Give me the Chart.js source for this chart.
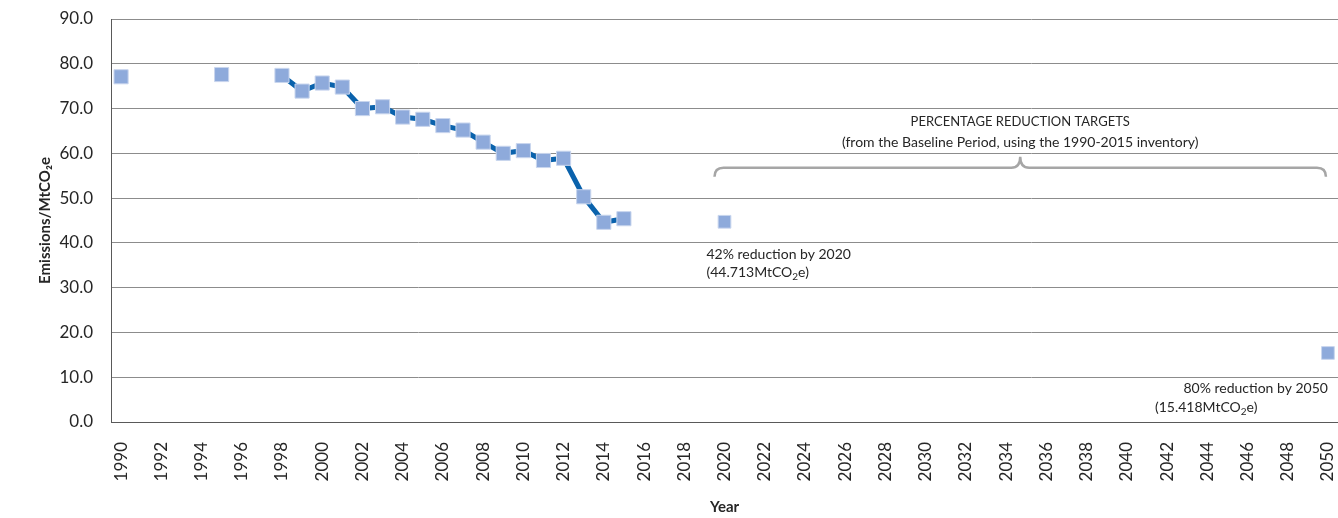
<!DOCTYPE html>
<html>
<head>
<meta charset="utf-8">
<script src="https://cdn.jsdelivr.net/npm/chart.js@4"></script>
<style>
  html, body { margin: 0; padding: 0; background: #fff; }
  #wrap { width: 1338px; height: 518px; }
</style>
</head>
<body>
<div id="wrap"><canvas id="emissionsChart" width="1338" height="518"></canvas></div>
<script>
// years on the category axis, 1990 - 2050
const years = [];
for (let y = 1990; y <= 2050; y++) years.push(String(y));

// inventory values (MtCO2e)
const inventoryYears = ["1990", "1995", "1998", "1999", "2000", "2001", "2002", "2003", "2004", "2005",
  "2006", "2007", "2008", "2009", "2010", "2011", "2012", "2013", "2014", "2015"];
const inventoryValues = [77.1, 77.6, 77.4, 73.9, 75.7, 74.8, 70.0, 70.4, 68.1, 67.6,
  66.2, 65.2, 62.5, 60.0, 60.6, 58.4, 58.9, 50.3, 44.6, 45.4];

// reduction targets
const targetYears = ["2020", "2050"];
const targetValues = [44.713, 15.418];

const yTicks = [0, 10, 20, 30, 40, 50, 60, 70, 80, 90];

const FONT = "Lato, 'Open Sans', sans-serif";

// one row per year, null where there is no value so the line breaks
function seriesFor(keys, vals) {
  return years.map((yr) => {
    const i = keys.indexOf(yr);
    return i >= 0 ? vals[i] : null;
  });
}
const lineData = seriesFor(inventoryYears, inventoryValues);
const targetData = seriesFor(targetYears, targetValues);

// brace + notes drawn on top, positioned through the scales
const notesPlugin = {
  id: "notes",
  afterDatasetsDraw(chart) {
    const { ctx, scales } = chart;
    const x = scales.x, y = scales.y;
    ctx.save();

    // curly brace over the target period
    const x0 = x.getPixelForValue(years.indexOf("2020")) - 10;
    const x1 = x.getPixelForValue(years.indexOf("2050")) - 2;
    const xm = (x0 + x1) / 2;
    const yb = y.getPixelForValue(56.8);
    const r = 9;
    ctx.strokeStyle = "#a6a6a6";
    ctx.lineWidth = 2.5;
    ctx.beginPath();
    ctx.moveTo(x0, yb + r);
    ctx.quadraticCurveTo(x0, yb, x0 + r, yb);
    ctx.lineTo(xm - r, yb);
    ctx.quadraticCurveTo(xm, yb, xm, yb - r - 2);
    ctx.quadraticCurveTo(xm, yb, xm + r, yb);
    ctx.lineTo(x1 - r, yb);
    ctx.quadraticCurveTo(x1, yb, x1, yb + r);
    ctx.stroke();

    ctx.fillStyle = "#262626";
    ctx.textAlign = "center";
    ctx.textBaseline = "middle";
    ctx.font = "13px " + FONT;
    ctx.fillText("PERCENTAGE REDUCTION TARGETS", xm, y.getPixelForValue(67.1));
    ctx.font = "14px " + FONT;
    ctx.fillText("(from the Baseline Period, using the 1990-2015 inventory)", xm, y.getPixelForValue(62.4));

    ctx.textAlign = "left";
    const lx = x.getPixelForValue(years.indexOf("2020")) - 18;
    ctx.fillText("42% reduction by 2020", lx, y.getPixelForValue(37.4));
    drawSub(ctx, "(44.713MtCO", "2", "e)", lx, y.getPixelForValue(33.4));

    const rx = x.getPixelForValue(years.indexOf("2050"));
    ctx.textAlign = "right";
    ctx.fillText("80% reduction by 2050", rx, y.getPixelForValue(7.4));
    ctx.textAlign = "left";
    drawSub(ctx, "(15.418MtCO", "2", "e)", rx - 173, y.getPixelForValue(3.2));
    ctx.restore();
  }
};

function drawSub(ctx, a, sub, b, px, py) {
  ctx.fillText(a, px, py);
  let w = ctx.measureText(a).width;
  const keep = ctx.font;
  ctx.font = "10px " + FONT;
  ctx.fillText(sub, px + w, py + 4);
  w += ctx.measureText(sub).width;
  ctx.font = keep;
  ctx.fillText(b, px + w, py);
}

new Chart(document.getElementById("emissionsChart"), {
  type: "line",
  data: {
    labels: years,
    datasets: [
      {
        label: "Inventory",
        data: lineData,
        borderColor: "#0a62ac",
        borderWidth: 5,
        pointStyle: "rect",
        pointRadius: 10,
        pointBackgroundColor: "#8eaadb",
        pointBorderColor: "#c9d6ee",
        pointBorderWidth: 1,
        spanGaps: false,
        tension: 0,
        clip: false
      },
      {
        label: "Targets",
        data: targetData,
        showLine: false,
        pointStyle: "rect",
        pointRadius: 9,
        pointBackgroundColor: "#8eaadb",
        pointBorderColor: "#c9d6ee",
        pointBorderWidth: 1,
        clip: false
      }
    ]
  },
  options: {
    responsive: false,
    animation: false,
    layout: { autoPadding: false, padding: { top: 19, left: 0, right: 0, bottom: 0 } },
    plugins: {
      legend: { display: false },
      tooltip: { enabled: false }
    },
    scales: {
      x: {
        offset: true,
        grid: { display: false, drawTicks: false },
        border: { color: "#595959", width: 1 },
        afterFit: (axis) => {
          axis.height = 96;
          axis.paddingLeft = 0;
          axis.paddingRight = 0;
        },
        ticks: {
          autoSkip: false,
          maxRotation: 90,
          minRotation: 90,
          padding: 20,
          color: "#262626",
          font: { family: FONT, size: 17 },
          callback: function (v, i) { return i % 2 === 0 ? years[i] : ""; }
        },
        title: {
          display: true,
          text: "Year",
          color: "#262626",
          font: { family: FONT, size: 15, weight: "bold" },
          padding: { top: 0, bottom: 2 }
        }
      },
      y: {
        min: 0,
        max: 90,
        afterBuildTicks: (axis) => { axis.ticks = yTicks.map((v) => ({ value: v })); },
        afterFit: (axis) => {
          axis.width = 111;
          axis.paddingTop = 0;
          axis.paddingBottom = 0;
        },
        grid: { color: "#8c8c8c", lineWidth: 1, drawTicks: false },
        border: { color: "#595959", width: 1 },
        ticks: {
          padding: 18,
          color: "#262626",
          font: { family: FONT, size: 17 },
          callback: (v) => Number(v).toFixed(1)
        },
        title: {
          display: true,
          text: "Emissions/MtCO₂e",
          color: "#262626",
          font: { family: FONT, size: 15, weight: "bold" },
          padding: { top: 36, bottom: 0 }
        }
      }
    }
  },
  plugins: [notesPlugin]
});
</script>
</body>
</html>
